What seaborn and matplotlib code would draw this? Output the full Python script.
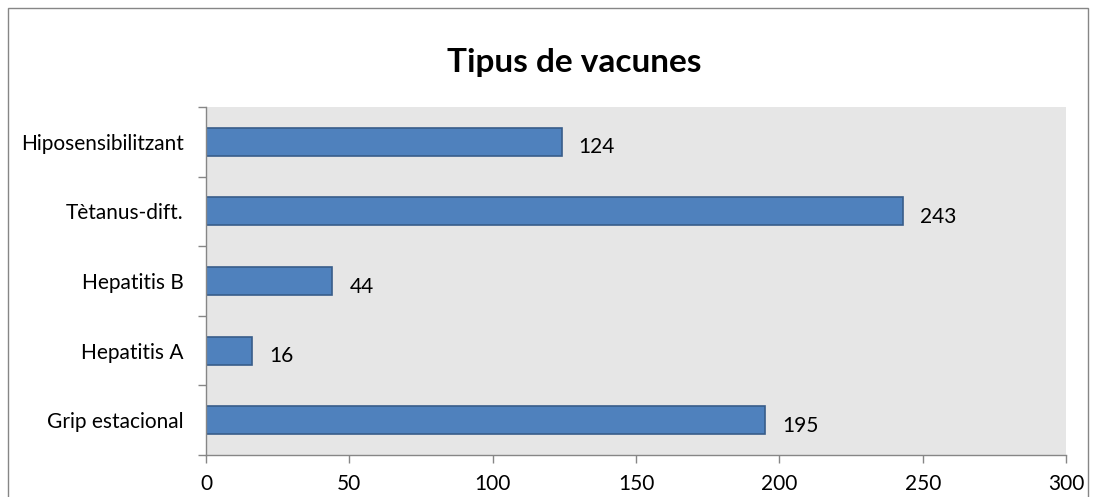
import pandas as pd
import seaborn as sns
import matplotlib.pyplot as plt
from matplotlib.patches import Rectangle

# data
categories = ['Hiposensibilitzant', 'Tètanus-dift.', 'Hepatitis B', 'Hepatitis A', 'Grip estacional']
values = [124, 243, 44, 16, 195]
x_ticks = [0, 50, 100, 150, 200, 250, 300]

df = pd.DataFrame({'tipus': categories, 'n': values})

sns.set_theme(style='white')
plt.rcParams['font.family'] = ['Lato', 'DejaVu Sans']

fig = plt.figure(figsize=(10.94, 4.97), dpi=100)
ax = fig.add_axes([0.1883, 0.0845, 0.7862, 0.7002])
ax.set_facecolor('#e6e6e6')

sns.barplot(data=df, x='n', y='tipus', order=categories, color='#4f81bd',
            saturation=1, width=0.4, edgecolor='#385d8a', linewidth=1.2, ax=ax)

# value labels, Excel style
for i, v in enumerate(values):
    ax.text(v + 6, i + 0.08, str(v), va='center', ha='left', fontsize=15, color='black')

ax.set_xlim(0, 300)
ax.set_ylim(len(categories) - 0.5, -0.5)
ax.set_xticks(x_ticks)
ax.set_xticklabels([str(t) for t in x_ticks], fontsize=15)
ax.set_yticks(range(len(categories)))
ax.set_yticklabels(categories, fontsize=15)
ax.set_xlabel('')
ax.set_ylabel('')

# tick marks sit between the categories on y
ax.set_yticks([i - 0.5 for i in range(len(categories) + 1)], minor=True)
ax.tick_params(axis='y', which='major', left=False, length=0, pad=16, labelcolor='black')
ax.tick_params(axis='y', which='minor', left=True, length=6, width=1, color='#868686', direction='out')
ax.tick_params(axis='x', bottom=True, length=6, width=1, color='#868686', direction='out',
               pad=8, labelcolor='black')

for s in ['top', 'right']:
    ax.spines[s].set_visible(False)
for s in ['left', 'bottom']:
    ax.spines[s].set_color('#868686')
    ax.spines[s].set_linewidth(1)

fig.text(0.5245, 0.875, 'Tipus de vacunes', ha='center', va='center',
         fontsize=24, fontweight='bold', color='black')

# outer chart border
fig.patches.append(Rectangle((8 / 1094, -0.05), 1080 / 1094, 1.05 - 8 / 497,
                             transform=fig.transFigure, fill=False,
                             edgecolor='#868686', linewidth=1))

fig.savefig('out.png', dpi=100)
